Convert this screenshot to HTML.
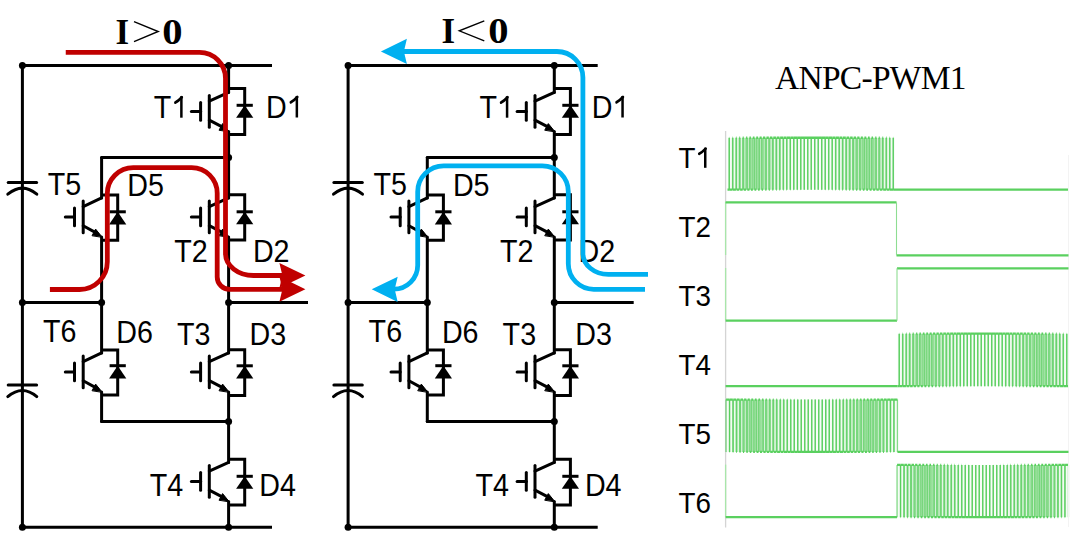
<!DOCTYPE html><html><head><meta charset="utf-8"><style>html,body{margin:0;padding:0;background:#fff;overflow:hidden}svg{display:block}</style></head><body>
<svg width="1080" height="548" viewBox="0 0 1080 548">
<rect width="1080" height="548" fill="#fff"/>
<g stroke="#000" stroke-width="3.0" fill="none" stroke-linecap="round" stroke-linejoin="round"><path d="M272,65.5H22.4V527.3H272" stroke-linecap="butt"/><line x1="22.4" y1="302.5" x2="101.6" y2="302.5"/><line x1="228.6" y1="302.5" x2="308" y2="302.5" stroke-linecap="butt"/><line x1="101.6" y1="157.5" x2="228.6" y2="157.5"/><line x1="101.6" y1="421.5" x2="228.6" y2="421.5"/><line x1="228.6" y1="65.5" x2="228.6" y2="92.4"/><line x1="228.6" y1="131.6" x2="228.6" y2="197.9"/><line x1="228.6" y1="237.1" x2="228.6" y2="352.9"/><line x1="228.6" y1="392.1" x2="228.6" y2="462.4"/><line x1="228.6" y1="501.6" x2="228.6" y2="527.3"/><line x1="101.6" y1="157.5" x2="101.6" y2="197.9"/><line x1="101.6" y1="237.1" x2="101.6" y2="352.9"/><line x1="101.6" y1="392.1" x2="101.6" y2="421.5"/><line x1="191.4" y1="111.6" x2="200.6" y2="111.6"/><line x1="200.6" y1="102.6" x2="200.6" y2="120.2"/><line x1="209.3" y1="95.5" x2="209.3" y2="127.2"/><line x1="209.3" y1="101.1" x2="228.6" y2="92.4"/><line x1="209.3" y1="120.2" x2="223.6" y2="127.6"/><polygon points="229.1,131.6 222.6,123.6 219.2,129.9" fill="#000" stroke="#000" stroke-width="1" stroke-linejoin="round"/><path d="M228.6,88.5H244.7V134.4H228.6" fill="none" stroke-linejoin="miter" stroke-linecap="butt"/><line x1="236.6" y1="105.3" x2="252.8" y2="105.3" stroke-linecap="butt"/><polygon points="244.7,105.3 236.1,117.8 253.3,117.8" fill="#000" stroke="none"/><line x1="191.4" y1="217.1" x2="200.6" y2="217.1"/><line x1="200.6" y1="208.1" x2="200.6" y2="225.7"/><line x1="209.3" y1="201" x2="209.3" y2="232.7"/><line x1="209.3" y1="206.6" x2="228.6" y2="197.9"/><line x1="209.3" y1="225.7" x2="223.6" y2="233.1"/><polygon points="229.1,237.1 222.6,229.1 219.2,235.4" fill="#000" stroke="#000" stroke-width="1" stroke-linejoin="round"/><path d="M228.6,194.8H244.7V240H228.6" fill="none" stroke-linejoin="miter" stroke-linecap="butt"/><line x1="236.6" y1="211.8" x2="252.8" y2="211.8" stroke-linecap="butt"/><polygon points="244.7,211.8 236.1,224.3 253.3,224.3" fill="#000" stroke="none"/><line x1="191.4" y1="372.1" x2="200.6" y2="372.1"/><line x1="200.6" y1="363.1" x2="200.6" y2="380.7"/><line x1="209.3" y1="356" x2="209.3" y2="387.7"/><line x1="209.3" y1="361.6" x2="228.6" y2="352.9"/><line x1="209.3" y1="380.7" x2="223.6" y2="388.1"/><polygon points="229.1,392.1 222.6,384.1 219.2,390.4" fill="#000" stroke="#000" stroke-width="1" stroke-linejoin="round"/><path d="M228.6,349.8H244.7V395.4H228.6" fill="none" stroke-linejoin="miter" stroke-linecap="butt"/><line x1="236.6" y1="365.8" x2="252.8" y2="365.8" stroke-linecap="butt"/><polygon points="244.7,365.8 236.1,378.4 253.3,378.4" fill="#000" stroke="none"/><line x1="191.4" y1="481.6" x2="200.6" y2="481.6"/><line x1="200.6" y1="472.6" x2="200.6" y2="490.2"/><line x1="209.3" y1="465.5" x2="209.3" y2="497.2"/><line x1="209.3" y1="471.1" x2="228.6" y2="462.4"/><line x1="209.3" y1="490.2" x2="223.6" y2="497.6"/><polygon points="229.1,501.6 222.6,493.6 219.2,499.9" fill="#000" stroke="#000" stroke-width="1" stroke-linejoin="round"/><path d="M228.6,459.3H244.7V505H228.6" fill="none" stroke-linejoin="miter" stroke-linecap="butt"/><line x1="236.6" y1="476.3" x2="252.8" y2="476.3" stroke-linecap="butt"/><polygon points="244.7,476.3 236.1,488.8 253.3,488.8" fill="#000" stroke="none"/><line x1="65.3" y1="217.1" x2="74.5" y2="217.1"/><line x1="74.5" y1="208.1" x2="74.5" y2="225.7"/><line x1="83.2" y1="201" x2="83.2" y2="232.7"/><line x1="83.2" y1="206.6" x2="101.6" y2="197.9"/><line x1="83.2" y1="225.7" x2="96.6" y2="233.1"/><polygon points="102.1,237.1 95.6,229.1 92.2,235.4" fill="#000" stroke="#000" stroke-width="1" stroke-linejoin="round"/><path d="M101.6,194.9H117.7V240.3H101.6" fill="none" stroke-linejoin="miter" stroke-linecap="butt"/><line x1="109.6" y1="211.8" x2="125.8" y2="211.8" stroke-linecap="butt"/><polygon points="117.7,211.8 109.1,224.4 126.3,224.4" fill="#000" stroke="none"/><line x1="65.3" y1="372.1" x2="74.5" y2="372.1"/><line x1="74.5" y1="363.1" x2="74.5" y2="380.7"/><line x1="83.2" y1="356" x2="83.2" y2="387.7"/><line x1="83.2" y1="361.6" x2="101.6" y2="352.9"/><line x1="83.2" y1="380.7" x2="96.6" y2="388.1"/><polygon points="102.1,392.1 95.6,384.1 92.2,390.4" fill="#000" stroke="#000" stroke-width="1" stroke-linejoin="round"/><path d="M101.6,350H117.7V395.1H101.6" fill="none" stroke-linejoin="miter" stroke-linecap="butt"/><line x1="109.6" y1="365.7" x2="125.8" y2="365.7" stroke-linecap="butt"/><polygon points="117.7,365.7 109.1,378.6 126.3,378.6" fill="#000" stroke="none"/><line x1="8.2" y1="182.6" x2="36.6" y2="182.6"/><path d="M7.8,194.2Q22.4,182 36.8,194.2" fill="none"/><line x1="8.2" y1="385" x2="36.6" y2="385"/><path d="M7.8,396.6Q22.4,384.4 36.8,396.6" fill="none"/></g><g fill="#000"><circle cx="22.4" cy="65.5" r="3.5"/><circle cx="228.6" cy="65.5" r="3.5"/><circle cx="228.6" cy="157.5" r="3.5"/><circle cx="22.4" cy="302.5" r="3.5"/><circle cx="101.6" cy="302.5" r="3.5"/><circle cx="228.6" cy="302.5" r="3.5"/><circle cx="228.6" cy="421.5" r="3.5"/><circle cx="22.4" cy="527.3" r="3.5"/><circle cx="228.6" cy="527.3" r="3.5"/></g><g font-family="Liberation Sans, sans-serif" font-size="28.7" fill="#000"><g transform="translate(153.8,117.7) scale(1,1.087)"><text x="0" y="0">T</text><g fill="none" stroke="#000" stroke-width="2.5"><line x1="27.58" y1="-19.75" x2="27.58" y2="0"/><path d="M27.98,-18.85Q24.58,-15.45 21.58,-13.95" stroke-width="2.6" stroke-linecap="round"/></g></g><g transform="translate(266.08,117.5) scale(1,1.087)"><text x="0" y="0">D</text><g fill="none" stroke="#000" stroke-width="2.5"><line x1="30.77" y1="-19.75" x2="30.77" y2="0"/><path d="M31.17,-18.85Q27.77,-15.45 24.77,-13.95" stroke-width="2.6" stroke-linecap="round"/></g></g><g transform="translate(47.8,195.3) scale(1,1.087)"><text x="0" y="0">T5</text></g><g transform="translate(127.18,195.9) scale(1,1.087)"><text x="0" y="0">D5</text></g><g transform="translate(174.2,261.8) scale(1,1.087)"><text x="0" y="0">T2</text></g><g transform="translate(252.88,261.8) scale(1,1.087)"><text x="0" y="0">D2</text></g><g transform="translate(42.9,341.7) scale(1,1.087)"><text x="0" y="0">T6</text></g><g transform="translate(116.18,343.3) scale(1,1.087)"><text x="0" y="0">D6</text></g><g transform="translate(176.9,345.3) scale(1,1.087)"><text x="0" y="0">T3</text></g><g transform="translate(249.58,345.3) scale(1,1.087)"><text x="0" y="0">D3</text></g><g transform="translate(149.8,495.7) scale(1,1.087)"><text x="0" y="0">T4</text></g><g transform="translate(259.18,495.7) scale(1,1.087)"><text x="0" y="0">D4</text></g></g>
<g stroke="#000" stroke-width="3.0" fill="none" stroke-linecap="round" stroke-linejoin="round"><path d="M597.7,65.5H348.1V527.3H597.7" stroke-linecap="butt"/><line x1="348.1" y1="302.5" x2="427.3" y2="302.5"/><line x1="554.3" y1="302.5" x2="633.7" y2="302.5" stroke-linecap="butt"/><line x1="427.3" y1="157.5" x2="554.3" y2="157.5"/><line x1="427.3" y1="421.5" x2="554.3" y2="421.5"/><line x1="554.3" y1="65.5" x2="554.3" y2="92.4"/><line x1="554.3" y1="131.6" x2="554.3" y2="197.9"/><line x1="554.3" y1="237.1" x2="554.3" y2="352.9"/><line x1="554.3" y1="392.1" x2="554.3" y2="462.4"/><line x1="554.3" y1="501.6" x2="554.3" y2="527.3"/><line x1="427.3" y1="157.5" x2="427.3" y2="197.9"/><line x1="427.3" y1="237.1" x2="427.3" y2="352.9"/><line x1="427.3" y1="392.1" x2="427.3" y2="421.5"/><line x1="517.1" y1="111.6" x2="526.3" y2="111.6"/><line x1="526.3" y1="102.6" x2="526.3" y2="120.2"/><line x1="535" y1="95.5" x2="535" y2="127.2"/><line x1="535" y1="101.1" x2="554.3" y2="92.4"/><line x1="535" y1="120.2" x2="549.3" y2="127.6"/><polygon points="554.8,131.6 548.3,123.6 544.9,129.9" fill="#000" stroke="#000" stroke-width="1" stroke-linejoin="round"/><path d="M554.3,88.5H570.4V134.4H554.3" fill="none" stroke-linejoin="miter" stroke-linecap="butt"/><line x1="562.3" y1="105.3" x2="578.5" y2="105.3" stroke-linecap="butt"/><polygon points="570.4,105.3 561.8,117.8 579,117.8" fill="#000" stroke="none"/><line x1="517.1" y1="217.1" x2="526.3" y2="217.1"/><line x1="526.3" y1="208.1" x2="526.3" y2="225.7"/><line x1="535" y1="201" x2="535" y2="232.7"/><line x1="535" y1="206.6" x2="554.3" y2="197.9"/><line x1="535" y1="225.7" x2="549.3" y2="233.1"/><polygon points="554.8,237.1 548.3,229.1 544.9,235.4" fill="#000" stroke="#000" stroke-width="1" stroke-linejoin="round"/><path d="M554.3,194.8H570.4V240H554.3" fill="none" stroke-linejoin="miter" stroke-linecap="butt"/><line x1="562.3" y1="211.8" x2="578.5" y2="211.8" stroke-linecap="butt"/><polygon points="570.4,211.8 561.8,224.3 579,224.3" fill="#000" stroke="none"/><line x1="517.1" y1="372.1" x2="526.3" y2="372.1"/><line x1="526.3" y1="363.1" x2="526.3" y2="380.7"/><line x1="535" y1="356" x2="535" y2="387.7"/><line x1="535" y1="361.6" x2="554.3" y2="352.9"/><line x1="535" y1="380.7" x2="549.3" y2="388.1"/><polygon points="554.8,392.1 548.3,384.1 544.9,390.4" fill="#000" stroke="#000" stroke-width="1" stroke-linejoin="round"/><path d="M554.3,349.8H570.4V395.4H554.3" fill="none" stroke-linejoin="miter" stroke-linecap="butt"/><line x1="562.3" y1="365.8" x2="578.5" y2="365.8" stroke-linecap="butt"/><polygon points="570.4,365.8 561.8,378.4 579,378.4" fill="#000" stroke="none"/><line x1="517.1" y1="481.6" x2="526.3" y2="481.6"/><line x1="526.3" y1="472.6" x2="526.3" y2="490.2"/><line x1="535" y1="465.5" x2="535" y2="497.2"/><line x1="535" y1="471.1" x2="554.3" y2="462.4"/><line x1="535" y1="490.2" x2="549.3" y2="497.6"/><polygon points="554.8,501.6 548.3,493.6 544.9,499.9" fill="#000" stroke="#000" stroke-width="1" stroke-linejoin="round"/><path d="M554.3,459.3H570.4V505H554.3" fill="none" stroke-linejoin="miter" stroke-linecap="butt"/><line x1="562.3" y1="476.3" x2="578.5" y2="476.3" stroke-linecap="butt"/><polygon points="570.4,476.3 561.8,488.8 579,488.8" fill="#000" stroke="none"/><line x1="391" y1="217.1" x2="400.2" y2="217.1"/><line x1="400.2" y1="208.1" x2="400.2" y2="225.7"/><line x1="408.9" y1="201" x2="408.9" y2="232.7"/><line x1="408.9" y1="206.6" x2="427.3" y2="197.9"/><line x1="408.9" y1="225.7" x2="422.3" y2="233.1"/><polygon points="427.8,237.1 421.3,229.1 417.9,235.4" fill="#000" stroke="#000" stroke-width="1" stroke-linejoin="round"/><path d="M427.3,194.9H443.4V240.3H427.3" fill="none" stroke-linejoin="miter" stroke-linecap="butt"/><line x1="435.3" y1="211.8" x2="451.5" y2="211.8" stroke-linecap="butt"/><polygon points="443.4,211.8 434.8,224.4 452,224.4" fill="#000" stroke="none"/><line x1="391" y1="372.1" x2="400.2" y2="372.1"/><line x1="400.2" y1="363.1" x2="400.2" y2="380.7"/><line x1="408.9" y1="356" x2="408.9" y2="387.7"/><line x1="408.9" y1="361.6" x2="427.3" y2="352.9"/><line x1="408.9" y1="380.7" x2="422.3" y2="388.1"/><polygon points="427.8,392.1 421.3,384.1 417.9,390.4" fill="#000" stroke="#000" stroke-width="1" stroke-linejoin="round"/><path d="M427.3,350H443.4V395.1H427.3" fill="none" stroke-linejoin="miter" stroke-linecap="butt"/><line x1="435.3" y1="365.7" x2="451.5" y2="365.7" stroke-linecap="butt"/><polygon points="443.4,365.7 434.8,378.6 452,378.6" fill="#000" stroke="none"/><line x1="333.9" y1="182.6" x2="362.3" y2="182.6"/><path d="M333.5,194.2Q348.1,182 362.5,194.2" fill="none"/><line x1="333.9" y1="385" x2="362.3" y2="385"/><path d="M333.5,396.6Q348.1,384.4 362.5,396.6" fill="none"/></g><g fill="#000"><circle cx="348.1" cy="65.5" r="3.5"/><circle cx="554.3" cy="65.5" r="3.5"/><circle cx="554.3" cy="157.5" r="3.5"/><circle cx="348.1" cy="302.5" r="3.5"/><circle cx="427.3" cy="302.5" r="3.5"/><circle cx="554.3" cy="302.5" r="3.5"/><circle cx="554.3" cy="421.5" r="3.5"/><circle cx="348.1" cy="527.3" r="3.5"/><circle cx="554.3" cy="527.3" r="3.5"/></g><g font-family="Liberation Sans, sans-serif" font-size="28.7" fill="#000"><g transform="translate(479.5,117.7) scale(1,1.087)"><text x="0" y="0">T</text><g fill="none" stroke="#000" stroke-width="2.5"><line x1="27.58" y1="-19.75" x2="27.58" y2="0"/><path d="M27.98,-18.85Q24.58,-15.45 21.58,-13.95" stroke-width="2.6" stroke-linecap="round"/></g></g><g transform="translate(591.78,117.5) scale(1,1.087)"><text x="0" y="0">D</text><g fill="none" stroke="#000" stroke-width="2.5"><line x1="30.77" y1="-19.75" x2="30.77" y2="0"/><path d="M31.17,-18.85Q27.77,-15.45 24.77,-13.95" stroke-width="2.6" stroke-linecap="round"/></g></g><g transform="translate(373.5,195.3) scale(1,1.087)"><text x="0" y="0">T5</text></g><g transform="translate(452.88,195.9) scale(1,1.087)"><text x="0" y="0">D5</text></g><g transform="translate(499.9,261.8) scale(1,1.087)"><text x="0" y="0">T2</text></g><g transform="translate(578.58,261.8) scale(1,1.087)"><text x="0" y="0">D2</text></g><g transform="translate(368.6,341.7) scale(1,1.087)"><text x="0" y="0">T6</text></g><g transform="translate(441.88,343.3) scale(1,1.087)"><text x="0" y="0">D6</text></g><g transform="translate(502.6,345.3) scale(1,1.087)"><text x="0" y="0">T3</text></g><g transform="translate(575.28,345.3) scale(1,1.087)"><text x="0" y="0">D3</text></g><g transform="translate(475.5,495.7) scale(1,1.087)"><text x="0" y="0">T4</text></g><g transform="translate(584.88,495.7) scale(1,1.087)"><text x="0" y="0">D4</text></g></g>
<g fill="none" stroke="#c00000" stroke-width="4.8">
<path d="M65.75,52.4H199.4A26,26 0 0 1 225.5,78.4V253.5A28,22 0 0 0 253.5,275.5H284"/>
<path d="M49.9,289.5H79.5A27.8,27.8 0 0 0 107.3,261.7V193.6A26,26 0 0 1 133.3,167.6H191.6A25.6,25.6 0 0 1 217.2,193.2V276.9A12.5,12.5 0 0 0 229.7,289.4H284"/>
</g>
<polygon points="305.4,275.5 279.4,262.9 282.4,275.5 279.4,288.1" fill="#c00000"/>
<polygon points="305.4,289.2 279.4,276.6 282.4,289.2 279.4,301.8" fill="#c00000"/>
<g fill="none" stroke="#00b0f0" stroke-width="4.8">
<path d="M403,51.5H556.8A26,26 0 0 1 582.9,77.5V253.4A25.5,21 0 0 0 608.4,274.4H648"/>
<path d="M645,289.3H594A25.5,25.5 0 0 1 568.3,263.8V191.8A26,26 0 0 0 542.3,165.8H443.7A26,26 0 0 0 417.7,191.8V265A24,24 0 0 1 393.7,289.2H392"/>
</g>
<polygon points="380.9,51.4 406.9,38.8 403.9,51.4 406.9,64" fill="#00b0f0"/>
<polygon points="371.7,289.3 397.7,276.7 394.7,289.3 397.7,301.9" fill="#00b0f0"/>
<g font-family="Liberation Serif, serif" font-weight="bold" font-size="35" fill="#000">
<text x="115.5" y="43.6">I</text><text transform="translate(162.3,43.6) scale(1.16,1)">0</text>
<text x="441.5" y="43">I</text><text transform="translate(488.3,43) scale(1.16,1)">0</text>
</g>
<g fill="none" stroke="#000" stroke-width="1.4">
<polyline points="134,21.6 158.2,31.5 134,41.6"/>
<polyline points="484.3,20.9 459.3,30.8 484.3,40.8"/>
</g>
<text x="775" y="89.3" font-family="Liberation Serif, serif" font-size="33.5" letter-spacing="-0.72" fill="#000">ANPC-PWM1</text>
<g font-family="Liberation Sans, sans-serif" font-size="27.8" fill="#000">
<g transform="translate(678.52,167.8) scale(1,1.05)"><text x="0" y="0">T</text><g fill="none" stroke="#000" stroke-width="2.5"><line x1="26.72" y1="-19.13" x2="26.72" y2="0"/><path d="M27.12,-18.23Q23.72,-14.83 20.72,-13.33" stroke-width="2.6" stroke-linecap="round"/></g></g>
<g transform="translate(678.52,237) scale(1,1.05)"><text x="0" y="0">T2</text></g>
<g transform="translate(678.52,306) scale(1,1.05)"><text x="0" y="0">T3</text></g>
<g transform="translate(678.52,375) scale(1,1.05)"><text x="0" y="0">T4</text></g>
<g transform="translate(678.52,444.1) scale(1,1.05)"><text x="0" y="0">T5</text></g>
<g transform="translate(678.52,513) scale(1,1.05)"><text x="0" y="0">T6</text></g>
</g>
<line x1="725.6" y1="131" x2="725.6" y2="527.5" stroke="#d4d4d4" stroke-width="1.3"/>
<g stroke="#a8e6aa" stroke-width="1.3">
<line x1="725.6" y1="202" x2="725.6" y2="255"/>
<line x1="725.6" y1="268" x2="725.6" y2="320.3"/>
<line x1="725.6" y1="464.6" x2="725.6" y2="516.8"/>
</g>
<defs><linearGradient id="pg" x1="0" y1="0" x2="1" y2="0"><stop offset="0" stop-color="#cdeecf" stop-opacity="0.15"/><stop offset="0.04" stop-color="#cdeecf" stop-opacity="0.26"/><stop offset="0.08" stop-color="#cdeecf" stop-opacity="0.52"/><stop offset="0.12" stop-color="#cdeecf" stop-opacity="0.77"/><stop offset="0.17" stop-color="#cdeecf" stop-opacity="1"/><stop offset="0.21" stop-color="#cdeecf" stop-opacity="0.78"/><stop offset="0.25" stop-color="#cdeecf" stop-opacity="0.59"/><stop offset="0.29" stop-color="#cdeecf" stop-opacity="0.41"/><stop offset="0.33" stop-color="#cdeecf" stop-opacity="0.27"/><stop offset="0.38" stop-color="#cdeecf" stop-opacity="0.15"/><stop offset="0.42" stop-color="#cdeecf" stop-opacity="0.15"/><stop offset="0.46" stop-color="#cdeecf" stop-opacity="0.15"/><stop offset="0.5" stop-color="#cdeecf" stop-opacity="0.15"/><stop offset="0.54" stop-color="#cdeecf" stop-opacity="0.15"/><stop offset="0.58" stop-color="#cdeecf" stop-opacity="0.15"/><stop offset="0.62" stop-color="#cdeecf" stop-opacity="0.15"/><stop offset="0.67" stop-color="#cdeecf" stop-opacity="0.27"/><stop offset="0.71" stop-color="#cdeecf" stop-opacity="0.41"/><stop offset="0.75" stop-color="#cdeecf" stop-opacity="0.59"/><stop offset="0.79" stop-color="#cdeecf" stop-opacity="0.78"/><stop offset="0.83" stop-color="#cdeecf" stop-opacity="1"/><stop offset="0.88" stop-color="#cdeecf" stop-opacity="0.77"/><stop offset="0.92" stop-color="#cdeecf" stop-opacity="0.52"/><stop offset="0.96" stop-color="#cdeecf" stop-opacity="0.26"/><stop offset="1" stop-color="#cdeecf" stop-opacity="0.15"/></linearGradient></defs>
<defs><filter id="bl" filterUnits="userSpaceOnUse" x="0" y="0" width="1080" height="548"><feGaussianBlur stdDeviation="0.35,0.2"/></filter></defs>
<rect x="727.5" y="137.75" width="167.5" height="51.9" fill="url(#pg)"/><g filter="url(#bl)"><path d="M729.19,137.75V189.65M732.56,137.75V189.65M735.94,137.75V189.65M739.32,137.75V189.65M742.7,137.75V189.65M746.08,137.75V189.65M749.46,137.75V189.65M752.85,137.75V189.65M756.24,137.75V189.65M759.63,137.75V189.65M763.03,137.75V189.65M766.44,137.75V189.65M769.85,137.75V189.65M773.26,137.75V189.65M776.68,137.75V189.65M780.11,137.75V189.65M783.54,137.75V189.65M786.98,137.75V189.65M790.42,137.75V189.65M793.88,137.75V189.65M797.34,137.75V189.65M800.8,137.75V189.65M804.28,137.75V189.65M807.76,137.75V189.65M811.25,137.75V189.65M814.75,137.75V189.65M818.25,137.75V189.65M821.76,137.75V189.65M825.28,137.75V189.65M828.81,137.75V189.65M832.34,137.75V189.65M835.88,137.75V189.65M839.43,137.75V189.65M842.98,137.75V189.65M846.54,137.75V189.65M850.11,137.75V189.65M853.68,137.75V189.65M857.25,137.75V189.65M860.83,137.75V189.65M864.42,137.75V189.65M868.01,137.75V189.65M871.6,137.75V189.65M875.19,137.75V189.65M878.79,137.75V189.65M882.39,137.75V189.65M885.99,137.75V189.65M889.59,137.75V189.65M893.2,137.75V189.65" stroke="#45c84b" stroke-opacity="0.66" stroke-width="1.3" fill="none"/><path d="M729.3,137.75V189.65M732.91,137.75V189.65M736.51,137.75V189.65M740.11,137.75V189.65M743.71,137.75V189.65M747.31,137.75V189.65M750.9,137.75V189.65M754.49,137.75V189.65M758.08,137.75V189.65M761.67,137.75V189.65M765.25,137.75V189.65M768.82,137.75V189.65M772.39,137.75V189.65M775.96,137.75V189.65M779.52,137.75V189.65M783.07,137.75V189.65M786.62,137.75V189.65M790.16,137.75V189.65M793.69,137.75V189.65M797.22,137.75V189.65M800.74,137.75V189.65M804.25,137.75V189.65M807.75,137.75V189.65M811.25,137.75V189.65M814.74,137.75V189.65M818.22,137.75V189.65M821.7,137.75V189.65M825.16,137.75V189.65M828.62,137.75V189.65M832.08,137.75V189.65M835.52,137.75V189.65M838.96,137.75V189.65M842.39,137.75V189.65M845.82,137.75V189.65M849.24,137.75V189.65M852.65,137.75V189.65M856.06,137.75V189.65M859.47,137.75V189.65M862.87,137.75V189.65M866.26,137.75V189.65M869.65,137.75V189.65M873.04,137.75V189.65M876.42,137.75V189.65M879.8,137.75V189.65M883.18,137.75V189.65M886.56,137.75V189.65M889.94,137.75V189.65M893.31,137.75V189.65" stroke="#45c84b" stroke-opacity="0.66" stroke-width="1.3" fill="none"/><path d="M729.19,137.75H729.3M732.56,137.75H732.91M735.94,137.75H736.51M739.32,137.75H740.11M742.7,137.75H743.71M746.08,137.75H747.31M749.46,137.75H750.9M752.85,137.75H754.49M756.24,137.75H758.08M759.63,137.75H761.67M763.03,137.75H765.25M766.44,137.75H768.82M769.85,137.75H772.39M773.26,137.75H775.96M776.68,137.75H779.52M780.11,137.75H783.07M783.54,137.75H786.62M786.98,137.75H790.16M790.42,137.75H793.69M793.88,137.75H797.22M797.34,137.75H800.74M800.8,137.75H804.25M804.28,137.75H807.75M807.76,137.75H811.25M811.25,137.75H814.74M814.75,137.75H818.22M818.25,137.75H821.7M821.76,137.75H825.16M825.28,137.75H828.62M828.81,137.75H832.08M832.34,137.75H835.52M835.88,137.75H838.96M839.43,137.75H842.39M842.98,137.75H845.82M846.54,137.75H849.24M850.11,137.75H852.65M853.68,137.75H856.06M857.25,137.75H859.47M860.83,137.75H862.87M864.42,137.75H866.26M868.01,137.75H869.65M871.6,137.75H873.04M875.19,137.75H876.42M878.79,137.75H879.8M882.39,137.75H883.18M885.99,137.75H886.56M889.59,137.75H889.94M893.2,137.75H893.31M727.5,189.65H729.19M729.3,189.65H732.56M732.91,189.65H735.94M736.51,189.65H739.32M740.11,189.65H742.7M743.71,189.65H746.08M747.31,189.65H749.46M750.9,189.65H752.85M754.49,189.65H756.24M758.08,189.65H759.63M761.67,189.65H763.03M765.25,189.65H766.44M768.82,189.65H769.85M772.39,189.65H773.26M775.96,189.65H776.68M779.52,189.65H780.11M783.07,189.65H783.54M786.62,189.65H786.98M790.16,189.65H790.42M793.69,189.65H793.88M797.22,189.65H797.34M800.74,189.65H800.8M804.25,189.65H804.28M807.75,189.65H807.76M811.25,189.65H811.25M814.74,189.65H814.75M818.22,189.65H818.25M821.7,189.65H821.76M825.16,189.65H825.28M828.62,189.65H828.81M832.08,189.65H832.34M835.52,189.65H835.88M838.96,189.65H839.43M842.39,189.65H842.98M845.82,189.65H846.54M849.24,189.65H850.11M852.65,189.65H853.68M856.06,189.65H857.25M859.47,189.65H860.83M862.87,189.65H864.42M866.26,189.65H868.01M869.65,189.65H871.6M873.04,189.65H875.19M876.42,189.65H878.79M879.8,189.65H882.39M883.18,189.65H885.99M886.56,189.65H889.59M889.94,189.65H893.2M893.31,189.65H895" stroke="#5ad05f" stroke-width="2.3" fill="none"/></g>
<rect x="897.5" y="333.65" width="171" height="52.5" fill="url(#pg)"/><g filter="url(#bl)"><path d="M899.19,333.65V386.15M902.57,333.65V386.15M905.95,333.65V386.15M909.33,333.65V386.15M912.71,333.65V386.15M916.09,333.65V386.15M919.48,333.65V386.15M922.87,333.65V386.15M926.26,333.65V386.15M929.65,333.65V386.15M933.05,333.65V386.15M936.46,333.65V386.15M939.87,333.65V386.15M943.28,333.65V386.15M946.7,333.65V386.15M950.13,333.65V386.15M953.56,333.65V386.15M957,333.65V386.15M960.44,333.65V386.15M963.9,333.65V386.15M967.35,333.65V386.15M970.82,333.65V386.15M974.29,333.65V386.15M977.77,333.65V386.15M981.26,333.65V386.15M984.75,333.65V386.15M988.25,333.65V386.15M991.76,333.65V386.15M995.27,333.65V386.15M998.79,333.65V386.15M1002.32,333.65V386.15M1005.86,333.65V386.15M1009.4,333.65V386.15M1012.95,333.65V386.15M1016.5,333.65V386.15M1020.06,333.65V386.15M1023.62,333.65V386.15M1027.19,333.65V386.15M1030.77,333.65V386.15M1034.35,333.65V386.15M1037.93,333.65V386.15M1041.52,333.65V386.15M1045.11,333.65V386.15M1048.7,333.65V386.15M1052.3,333.65V386.15M1055.9,333.65V386.15M1059.5,333.65V386.15M1063.1,333.65V386.15M1066.7,333.65V386.15" stroke="#45c84b" stroke-opacity="0.66" stroke-width="1.3" fill="none"/><path d="M899.3,333.65V386.15M902.9,333.65V386.15M906.5,333.65V386.15M910.1,333.65V386.15M913.7,333.65V386.15M917.3,333.65V386.15M920.89,333.65V386.15M924.48,333.65V386.15M928.07,333.65V386.15M931.65,333.65V386.15M935.23,333.65V386.15M938.81,333.65V386.15M942.38,333.65V386.15M945.94,333.65V386.15M949.5,333.65V386.15M953.05,333.65V386.15M956.6,333.65V386.15M960.14,333.65V386.15M963.68,333.65V386.15M967.21,333.65V386.15M970.73,333.65V386.15M974.24,333.65V386.15M977.75,333.65V386.15M981.25,333.65V386.15M984.74,333.65V386.15M988.23,333.65V386.15M991.71,333.65V386.15M995.18,333.65V386.15M998.65,333.65V386.15M1002.1,333.65V386.15M1005.56,333.65V386.15M1009,333.65V386.15M1012.44,333.65V386.15M1015.87,333.65V386.15M1019.3,333.65V386.15M1022.72,333.65V386.15M1026.13,333.65V386.15M1029.54,333.65V386.15M1032.95,333.65V386.15M1036.35,333.65V386.15M1039.74,333.65V386.15M1043.13,333.65V386.15M1046.52,333.65V386.15M1049.91,333.65V386.15M1053.29,333.65V386.15M1056.67,333.65V386.15M1060.05,333.65V386.15M1063.43,333.65V386.15M1066.81,333.65V386.15" stroke="#45c84b" stroke-opacity="0.66" stroke-width="1.3" fill="none"/><path d="M899.19,333.65H899.3M902.57,333.65H902.9M905.95,333.65H906.5M909.33,333.65H910.1M912.71,333.65H913.7M916.09,333.65H917.3M919.48,333.65H920.89M922.87,333.65H924.48M926.26,333.65H928.07M929.65,333.65H931.65M933.05,333.65H935.23M936.46,333.65H938.81M939.87,333.65H942.38M943.28,333.65H945.94M946.7,333.65H949.5M950.13,333.65H953.05M953.56,333.65H956.6M957,333.65H960.14M960.44,333.65H963.68M963.9,333.65H967.21M967.35,333.65H970.73M970.82,333.65H974.24M974.29,333.65H977.75M977.77,333.65H981.25M981.26,333.65H984.74M984.75,333.65H988.23M988.25,333.65H991.71M991.76,333.65H995.18M995.27,333.65H998.65M998.79,333.65H1002.1M1002.32,333.65H1005.56M1005.86,333.65H1009M1009.4,333.65H1012.44M1012.95,333.65H1015.87M1016.5,333.65H1019.3M1020.06,333.65H1022.72M1023.62,333.65H1026.13M1027.19,333.65H1029.54M1030.77,333.65H1032.95M1034.35,333.65H1036.35M1037.93,333.65H1039.74M1041.52,333.65H1043.13M1045.11,333.65H1046.52M1048.7,333.65H1049.91M1052.3,333.65H1053.29M1055.9,333.65H1056.67M1059.5,333.65H1060.05M1063.1,333.65H1063.43M1066.7,333.65H1066.81M897.5,386.15H899.19M899.3,386.15H902.57M902.9,386.15H905.95M906.5,386.15H909.33M910.1,386.15H912.71M913.7,386.15H916.09M917.3,386.15H919.48M920.89,386.15H922.87M924.48,386.15H926.26M928.07,386.15H929.65M931.65,386.15H933.05M935.23,386.15H936.46M938.81,386.15H939.87M942.38,386.15H943.28M945.94,386.15H946.7M949.5,386.15H950.13M953.05,386.15H953.56M956.6,386.15H957M960.14,386.15H960.44M963.68,386.15H963.9M967.21,386.15H967.35M970.73,386.15H970.82M974.24,386.15H974.29M977.75,386.15H977.77M981.25,386.15H981.26M984.74,386.15H984.75M988.23,386.15H988.25M991.71,386.15H991.76M995.18,386.15H995.27M998.65,386.15H998.79M1002.1,386.15H1002.32M1005.56,386.15H1005.86M1009,386.15H1009.4M1012.44,386.15H1012.95M1015.87,386.15H1016.5M1019.3,386.15H1020.06M1022.72,386.15H1023.62M1026.13,386.15H1027.19M1029.54,386.15H1030.77M1032.95,386.15H1034.35M1036.35,386.15H1037.93M1039.74,386.15H1041.52M1043.13,386.15H1045.11M1046.52,386.15H1048.7M1049.91,386.15H1052.3M1053.29,386.15H1055.9M1056.67,386.15H1059.5M1060.05,386.15H1063.1M1063.43,386.15H1066.7M1066.81,386.15H1068.5" stroke="#5ad05f" stroke-width="2.3" fill="none"/></g>
<rect x="726" y="399.55" width="171.5" height="52.4" fill="url(#pg)"/><g filter="url(#bl)"><path d="M726.06,399.55V451.95M729.67,399.55V451.95M733.28,399.55V451.95M736.89,399.55V451.95M740.5,399.55V451.95M744.1,399.55V451.95M747.71,399.55V451.95M751.31,399.55V451.95M754.91,399.55V451.95M758.5,399.55V451.95M762.09,399.55V451.95M765.68,399.55V451.95M769.26,399.55V451.95M772.83,399.55V451.95M776.4,399.55V451.95M779.97,399.55V451.95M783.52,399.55V451.95M787.08,399.55V451.95M790.62,399.55V451.95M794.16,399.55V451.95M797.69,399.55V451.95M801.22,399.55V451.95M804.74,399.55V451.95M808.25,399.55V451.95M811.75,399.55V451.95M815.25,399.55V451.95M818.74,399.55V451.95M822.22,399.55V451.95M825.69,399.55V451.95M829.16,399.55V451.95M832.62,399.55V451.95M836.08,399.55V451.95M839.52,399.55V451.95M842.97,399.55V451.95M846.4,399.55V451.95M849.83,399.55V451.95M853.26,399.55V451.95M856.68,399.55V451.95M860.09,399.55V451.95M863.5,399.55V451.95M866.91,399.55V451.95M870.31,399.55V451.95M873.71,399.55V451.95M877.1,399.55V451.95M880.5,399.55V451.95M883.89,399.55V451.95M887.28,399.55V451.95M890.67,399.55V451.95M894.06,399.55V451.95" stroke="#45c84b" stroke-opacity="0.66" stroke-width="1.3" fill="none"/><path d="M729.44,399.55V451.95M732.83,399.55V451.95M736.22,399.55V451.95M739.61,399.55V451.95M743,399.55V451.95M746.4,399.55V451.95M749.79,399.55V451.95M753.19,399.55V451.95M756.59,399.55V451.95M760,399.55V451.95M763.41,399.55V451.95M766.82,399.55V451.95M770.24,399.55V451.95M773.67,399.55V451.95M777.1,399.55V451.95M780.53,399.55V451.95M783.98,399.55V451.95M787.42,399.55V451.95M790.88,399.55V451.95M794.34,399.55V451.95M797.81,399.55V451.95M801.28,399.55V451.95M804.76,399.55V451.95M808.25,399.55V451.95M811.75,399.55V451.95M815.25,399.55V451.95M818.76,399.55V451.95M822.28,399.55V451.95M825.81,399.55V451.95M829.34,399.55V451.95M832.88,399.55V451.95M836.42,399.55V451.95M839.98,399.55V451.95M843.53,399.55V451.95M847.1,399.55V451.95M850.67,399.55V451.95M854.24,399.55V451.95M857.82,399.55V451.95M861.41,399.55V451.95M865,399.55V451.95M868.59,399.55V451.95M872.19,399.55V451.95M875.79,399.55V451.95M879.4,399.55V451.95M883,399.55V451.95M886.61,399.55V451.95M890.22,399.55V451.95M893.83,399.55V451.95M897.44,399.55V451.95" stroke="#45c84b" stroke-opacity="0.66" stroke-width="1.3" fill="none"/><path d="M726.06,399.55H729.44M729.67,399.55H732.83M733.28,399.55H736.22M736.89,399.55H739.61M740.5,399.55H743M744.1,399.55H746.4M747.71,399.55H749.79M751.31,399.55H753.19M754.91,399.55H756.59M758.5,399.55H760M762.09,399.55H763.41M765.68,399.55H766.82M769.26,399.55H770.24M772.83,399.55H773.67M776.4,399.55H777.1M779.97,399.55H780.53M783.52,399.55H783.98M787.08,399.55H787.42M790.62,399.55H790.88M794.16,399.55H794.34M797.69,399.55H797.81M801.22,399.55H801.28M804.74,399.55H804.76M808.25,399.55H808.25M811.75,399.55H811.75M815.25,399.55H815.25M818.74,399.55H818.76M822.22,399.55H822.28M825.69,399.55H825.81M829.16,399.55H829.34M832.62,399.55H832.88M836.08,399.55H836.42M839.52,399.55H839.98M842.97,399.55H843.53M846.4,399.55H847.1M849.83,399.55H850.67M853.26,399.55H854.24M856.68,399.55H857.82M860.09,399.55H861.41M863.5,399.55H865M866.91,399.55H868.59M870.31,399.55H872.19M873.71,399.55H875.79M877.1,399.55H879.4M880.5,399.55H883M883.89,399.55H886.61M887.28,399.55H890.22M890.67,399.55H893.83M894.06,399.55H897.44M726,451.95H726.06M729.44,451.95H729.67M732.83,451.95H733.28M736.22,451.95H736.89M739.61,451.95H740.5M743,451.95H744.1M746.4,451.95H747.71M749.79,451.95H751.31M753.19,451.95H754.91M756.59,451.95H758.5M760,451.95H762.09M763.41,451.95H765.68M766.82,451.95H769.26M770.24,451.95H772.83M773.67,451.95H776.4M777.1,451.95H779.97M780.53,451.95H783.52M783.98,451.95H787.08M787.42,451.95H790.62M790.88,451.95H794.16M794.34,451.95H797.69M797.81,451.95H801.22M801.28,451.95H804.74M804.76,451.95H808.25M808.25,451.95H811.75M811.75,451.95H815.25M815.25,451.95H818.74M818.76,451.95H822.22M822.28,451.95H825.69M825.81,451.95H829.16M829.34,451.95H832.62M832.88,451.95H836.08M836.42,451.95H839.52M839.98,451.95H842.97M843.53,451.95H846.4M847.1,451.95H849.83M850.67,451.95H853.26M854.24,451.95H856.68M857.82,451.95H860.09M861.41,451.95H863.5M865,451.95H866.91M868.59,451.95H870.31M872.19,451.95H873.71M875.79,451.95H877.1M879.4,451.95H880.5M883,451.95H883.89M886.61,451.95H887.28M890.22,451.95H890.67M893.83,451.95H894.06M897.44,451.95H897.5" stroke="#5ad05f" stroke-width="2.3" fill="none"/></g>
<rect x="897" y="464.95" width="171.5" height="52.2" fill="url(#pg)"/><g filter="url(#bl)"><path d="M897.06,464.95V517.15M900.67,464.95V517.15M904.28,464.95V517.15M907.89,464.95V517.15M911.5,464.95V517.15M915.1,464.95V517.15M918.71,464.95V517.15M922.31,464.95V517.15M925.91,464.95V517.15M929.5,464.95V517.15M933.09,464.95V517.15M936.68,464.95V517.15M940.26,464.95V517.15M943.83,464.95V517.15M947.4,464.95V517.15M950.97,464.95V517.15M954.52,464.95V517.15M958.08,464.95V517.15M961.62,464.95V517.15M965.16,464.95V517.15M968.69,464.95V517.15M972.22,464.95V517.15M975.74,464.95V517.15M979.25,464.95V517.15M982.75,464.95V517.15M986.25,464.95V517.15M989.74,464.95V517.15M993.22,464.95V517.15M996.69,464.95V517.15M1000.16,464.95V517.15M1003.62,464.95V517.15M1007.08,464.95V517.15M1010.52,464.95V517.15M1013.97,464.95V517.15M1017.4,464.95V517.15M1020.83,464.95V517.15M1024.26,464.95V517.15M1027.68,464.95V517.15M1031.09,464.95V517.15M1034.5,464.95V517.15M1037.91,464.95V517.15M1041.31,464.95V517.15M1044.71,464.95V517.15M1048.1,464.95V517.15M1051.5,464.95V517.15M1054.89,464.95V517.15M1058.28,464.95V517.15M1061.67,464.95V517.15M1065.06,464.95V517.15" stroke="#45c84b" stroke-opacity="0.66" stroke-width="1.3" fill="none"/><path d="M900.44,464.95V517.15M903.83,464.95V517.15M907.22,464.95V517.15M910.61,464.95V517.15M914,464.95V517.15M917.4,464.95V517.15M920.79,464.95V517.15M924.19,464.95V517.15M927.59,464.95V517.15M931,464.95V517.15M934.41,464.95V517.15M937.82,464.95V517.15M941.24,464.95V517.15M944.67,464.95V517.15M948.1,464.95V517.15M951.53,464.95V517.15M954.98,464.95V517.15M958.42,464.95V517.15M961.88,464.95V517.15M965.34,464.95V517.15M968.81,464.95V517.15M972.28,464.95V517.15M975.76,464.95V517.15M979.25,464.95V517.15M982.75,464.95V517.15M986.25,464.95V517.15M989.76,464.95V517.15M993.28,464.95V517.15M996.81,464.95V517.15M1000.34,464.95V517.15M1003.88,464.95V517.15M1007.42,464.95V517.15M1010.98,464.95V517.15M1014.53,464.95V517.15M1018.1,464.95V517.15M1021.67,464.95V517.15M1025.24,464.95V517.15M1028.82,464.95V517.15M1032.41,464.95V517.15M1036,464.95V517.15M1039.59,464.95V517.15M1043.19,464.95V517.15M1046.79,464.95V517.15M1050.4,464.95V517.15M1054,464.95V517.15M1057.61,464.95V517.15M1061.22,464.95V517.15M1064.83,464.95V517.15M1068.44,464.95V517.15" stroke="#45c84b" stroke-opacity="0.66" stroke-width="1.3" fill="none"/><path d="M897.06,464.95H900.44M900.67,464.95H903.83M904.28,464.95H907.22M907.89,464.95H910.61M911.5,464.95H914M915.1,464.95H917.4M918.71,464.95H920.79M922.31,464.95H924.19M925.91,464.95H927.59M929.5,464.95H931M933.09,464.95H934.41M936.68,464.95H937.82M940.26,464.95H941.24M943.83,464.95H944.67M947.4,464.95H948.1M950.97,464.95H951.53M954.52,464.95H954.98M958.08,464.95H958.42M961.62,464.95H961.88M965.16,464.95H965.34M968.69,464.95H968.81M972.22,464.95H972.28M975.74,464.95H975.76M979.25,464.95H979.25M982.75,464.95H982.75M986.25,464.95H986.25M989.74,464.95H989.76M993.22,464.95H993.28M996.69,464.95H996.81M1000.16,464.95H1000.34M1003.62,464.95H1003.88M1007.08,464.95H1007.42M1010.52,464.95H1010.98M1013.97,464.95H1014.53M1017.4,464.95H1018.1M1020.83,464.95H1021.67M1024.26,464.95H1025.24M1027.68,464.95H1028.82M1031.09,464.95H1032.41M1034.5,464.95H1036M1037.91,464.95H1039.59M1041.31,464.95H1043.19M1044.71,464.95H1046.79M1048.1,464.95H1050.4M1051.5,464.95H1054M1054.89,464.95H1057.61M1058.28,464.95H1061.22M1061.67,464.95H1064.83M1065.06,464.95H1068.44M897,517.15H897.06M900.44,517.15H900.67M903.83,517.15H904.28M907.22,517.15H907.89M910.61,517.15H911.5M914,517.15H915.1M917.4,517.15H918.71M920.79,517.15H922.31M924.19,517.15H925.91M927.59,517.15H929.5M931,517.15H933.09M934.41,517.15H936.68M937.82,517.15H940.26M941.24,517.15H943.83M944.67,517.15H947.4M948.1,517.15H950.97M951.53,517.15H954.52M954.98,517.15H958.08M958.42,517.15H961.62M961.88,517.15H965.16M965.34,517.15H968.69M968.81,517.15H972.22M972.28,517.15H975.74M975.76,517.15H979.25M979.25,517.15H982.75M982.75,517.15H986.25M986.25,517.15H989.74M989.76,517.15H993.22M993.28,517.15H996.69M996.81,517.15H1000.16M1000.34,517.15H1003.62M1003.88,517.15H1007.08M1007.42,517.15H1010.52M1010.98,517.15H1013.97M1014.53,517.15H1017.4M1018.1,517.15H1020.83M1021.67,517.15H1024.26M1025.24,517.15H1027.68M1028.82,517.15H1031.09M1032.41,517.15H1034.5M1036,517.15H1037.91M1039.59,517.15H1041.31M1043.19,517.15H1044.71M1046.79,517.15H1048.1M1050.4,517.15H1051.5M1054,517.15H1054.89M1057.61,517.15H1058.28M1061.22,517.15H1061.67M1064.83,517.15H1065.06M1068.44,517.15H1068.5" stroke="#5ad05f" stroke-width="2.3" fill="none"/></g>
<g stroke="#5ad05f" stroke-width="2.3" fill="none" filter="url(#bl)">
<line x1="895" y1="189.65" x2="1068.5" y2="189.65"/>
<line x1="1068.5" y1="155" x2="1068.5" y2="527" stroke="#f3f3f3" stroke-width="1"/>
<line x1="725.6" y1="202.35" x2="896.5" y2="202.35"/><line x1="896.5" y1="255.35" x2="1068.5" y2="255.35"/>
<line x1="725.6" y1="320.65" x2="897" y2="320.65"/><line x1="897" y1="268.35" x2="1068.5" y2="268.35"/>
<line x1="725.6" y1="386.15" x2="897.5" y2="386.15"/>
<line x1="897.5" y1="451.95" x2="1068.5" y2="451.95"/>
<line x1="725.6" y1="517.15" x2="897" y2="517.15"/>
</g>
<g stroke="#8edd92" stroke-width="1.1" fill="none" filter="url(#bl)">
<line x1="896.5" y1="202.35" x2="896.5" y2="255.35"/>
<line x1="897" y1="268.35" x2="897" y2="320.65"/>
</g>
</svg></body></html>
